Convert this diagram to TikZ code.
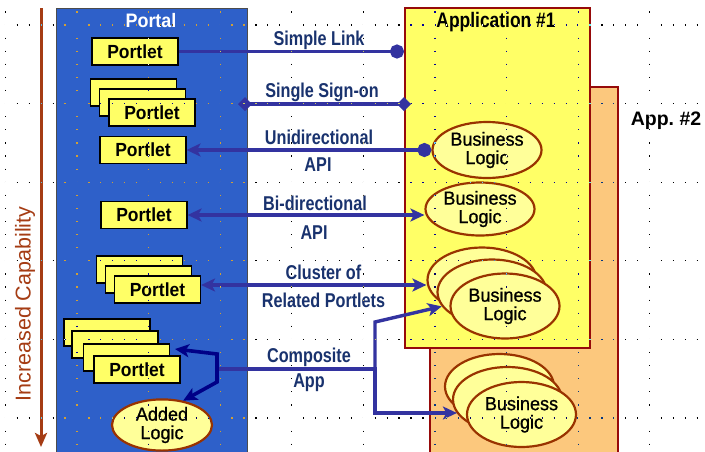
\documentclass[tikz,border=0pt]{standalone}
\usepackage{fontspec}
\setmainfont{Liberation Sans}
\newfontfamily\labfont[FakeStretch=0.81]{Liberation Sans}
\newfontfamily\ptfont[FakeStretch=0.92]{Liberation Sans}
\newfontfamily\blfont[FakeStretch=0.95,FakeBold=0.8]{Liberation Sans}
\newfontfamily\apfont[FakeStretch=0.83]{Liberation Sans}
\usetikzlibrary{arrows.meta,shapes.geometric}
\definecolor{portalblue}{RGB}{46,96,201}
\definecolor{pyellow}{RGB}{255,255,102}
\definecolor{appred}{RGB}{150,10,10}
\definecolor{apporange}{RGB}{252,200,125}
\definecolor{ellfill}{RGB}{255,255,153}
\definecolor{ellbrown}{RGB}{153,51,0}
\definecolor{connblue}{RGB}{51,51,160}
\definecolor{navyline}{RGB}{0,0,135}
\definecolor{labnavy}{RGB}{25,50,110}
\definecolor{capbrown}{RGB}{165,60,20}
\tikzset{
  portlet/.style={draw=black, line width=1.1pt, fill=pyellow, minimum width=86pt, minimum height=27pt, inner sep=0pt, font=\ptfont\bfseries\fontsize{19}{19}\selectfont},
  blogic/.style={ellipse, draw=ellbrown, line width=2.2pt, fill=ellfill, minimum width=109pt, minimum height=56pt, inner sep=0pt, align=center, font=\blfont\fontsize{19}{18.5}\selectfont},
  conn/.style={draw=connblue, line width=3.4pt},
  lab/.style={text=labnavy, inner sep=0pt, font=\labfont\bfseries\fontsize{20}{20}\selectfont},
  tipS/.tip={Stealth[length=14pt,width=13pt,inset=3.5pt]},
  tipC/.tip={Circle[length=14pt]},
  tipD/.tip={Diamond[length=14pt,width=14pt]},
  gridrow/.style={white, line width=1.2pt, dash pattern=on 1.2pt off 10.73pt},
  gridcol/.style={white, line width=1.2pt, dash pattern=on 1.2pt off 11.9pt}
}
\begin{document}
\begin{tikzpicture}[x=1pt,y=-1pt]
\path[use as bounding box] (0,0) rectangle (705,451);
\clip (0,0) rectangle (705,451);
\fill[white] (0,0) rectangle (705,451);

% increased capability
\coordinate (captop) at (41,8);
\coordinate (capbot) at (41,447);
\draw[capbrown, line width=3pt, -{Stealth[length=14pt,width=12pt,inset=3pt]}] (captop) -- (capbot);
\node[rotate=90, text=capbrown, inner sep=0pt, font=\fontsize{21.5}{21.5}\selectfont] (cap) at (25,304) {Increased Capability};

% portal
\node[draw=black!70, line width=0.8pt, fill=portalblue, minimum width=191pt, minimum height=460pt, inner sep=0pt, anchor=north west] (portal) at (56,8) {};
\node[text=white, inner sep=0pt, font=\ptfont\bfseries\fontsize{19.5}{19.5}\selectfont] (portaltitle) at (151,21) {Portal};

% app #2 and app #1
\node[draw=appred, line width=2.2pt, fill=apporange, minimum width=188pt, minimum height=400pt, inner sep=0pt, anchor=north west] (app2) at (429,86) {};
\node[inner sep=0pt, font=\bfseries\fontsize{19.5}{19.5}\selectfont] (app2title) at (666,121) {App.\ \#2};
\node[draw=appred, line width=2.2pt, fill=pyellow, minimum width=185pt, minimum height=340pt, inner sep=0pt, anchor=north west] (app1) at (404,7) {};
\node[inner sep=0pt, font=\apfont\bfseries\fontsize{21}{21}\selectfont] (app1title) at (496,22) {Application \#1};

% portlets
\node[portlet] (p1) at (135,51.5) {Portlet};
\node[portlet] (p2a) at (133.5,92.5) {};
\node[portlet] (p2b) at (142.5,102.5) {};
\node[portlet] (p2c) at (152,112.5) {Portlet};
\node[portlet] (p3) at (143,150) {Portlet};
\node[portlet] (p4) at (144,215) {Portlet};
\node[portlet] (p5a) at (139.5,269.5) {};
\node[portlet] (p5b) at (148.5,279.5) {};
\node[portlet] (p5c) at (157.5,289.5) {Portlet};
\node[portlet] (p6a) at (107,332.5) {};
\node[portlet] (p6b) at (115,344.5) {};
\node[portlet] (p6c) at (126.5,357.5) {};
\node[portlet] (p6d) at (137,369.5) {Portlet};
\node[blogic, minimum width=100pt, minimum height=50pt] (added) at (162,425) {Added\\Logic};

% business logic
\node[blogic] (bl1) at (487,150) {Business\\Logic};
\node[blogic, minimum height=53pt] (bl2) at (480,209) {Business\\Logic};
\node[blogic, minimum height=65pt] (c1a) at (482,280) {};
\node[blogic, minimum height=65pt] (c1b) at (492,292) {};
\node[blogic, minimum height=65pt] (c1c) at (505,306) {Business\\Logic};
\node[blogic, minimum height=65pt] (c2a) at (499.5,386.5) {};
\node[blogic, minimum height=65pt] (c2b) at (507.5,399.5) {};
\node[blogic, minimum height=65pt] (c2c) at (521.5,414.5) {Business\\Logic};

% connectors
\draw[conn, -tipC] (p1.east) -- (p1.east -| app1.west);
\coordinate (ssoL) at (238,104);
\coordinate (ssoR) at (411,104);
\draw[conn, tipD-tipD] (ssoL) -- (ssoR);
\draw[conn, tipC-tipS] (bl1.west) -- (p3.east);
\draw[conn, tipS-tipS] (p4.east) -- (p4.east -| bl2.west);
\draw[conn, tipS-tipS] ([yshift=4.5pt]p5c.east) -- ([yshift=4.5pt]p5c.east -| c1a.west);
\coordinate (cs) at (220,369);
\coordinate (cj) at (375,369);
\coordinate (cu) at (375,322);
\coordinate (cd) at (375,413);
\draw[conn, line cap=rect] (cs) -- (cj);
\draw[conn, -tipS] (cj) -- (cu) -- (c1b.196);
\draw[conn, -tipS] (cj) -- (cd) -- ([xshift=5pt]cd -| c2b.west);
\coordinate (nbs) at (175,349);
\coordinate (nb1) at (217,354);
\coordinate (nb2) at (217,382);
\draw[navyline, line width=3.6pt, line join=miter, tipS-tipS] (nbs) -- (nb1) -- (nb2) -- (added.49);

% labels
\node[lab] (l1) at (319,40) {Simple Link};
\node[lab] (l2) at (322,92) {Single Sign-on};
\node[lab] (l3) at (319,137) {Unidirectional};
\node[lab] (l3b) at (318,165) {API};
\node[lab] (l4) at (315,203) {Bi-directional};
\node[lab] (l4b) at (314,233) {API};
\node[lab] (l5) at (323.5,272) {Cluster of};
\node[lab] (l5b) at (323.5,300) {Related Portlets};
\node[lab] (l6) at (309,357) {Composite};
\node[lab] (l6b) at (309,383) {App};

% background grid of dots
\begin{scope}[blend mode=difference]
\foreach \gy in {25,103.6,182.2,260.8,339.4,418}
  \draw[gridrow] (4.8,\gy) -- (705,\gy);
\foreach \gx in {5.4,77,148.6,220.2,291.8,363.4,435,506.6,578.2,649.8}
  \draw[gridcol] (\gx,-1.8) -- (\gx,451);
\end{scope}
\end{tikzpicture}
\end{document}
